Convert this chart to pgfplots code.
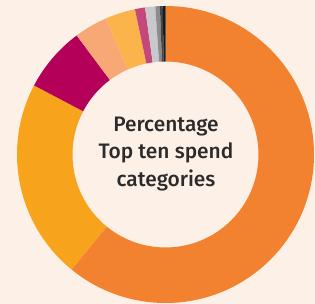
\documentclass[border=0pt]{standalone}
\usepackage{pgfplots}
\pgfplotsset{compat=1.18}
\usepackage{pgfplotstable}
\usepackage{fontspec}
\setmainfont{Fira Sans}[UprightFont=* Medium]
\definecolor{bg}{HTML}{FDF0E6}
\definecolor{txt}{HTML}{2B2B2B}
\definecolor{c1}{HTML}{F28130}
\definecolor{c2}{HTML}{F7A41C}
\definecolor{c3}{HTML}{B5005A}
\definecolor{c4}{HTML}{F7A874}
\definecolor{c5}{HTML}{FBB44C}
\definecolor{c6}{HTML}{C4497A}
\definecolor{c7}{HTML}{C8C9CC}
\definecolor{c8}{HTML}{8C8C8E}
\definecolor{c9}{HTML}{45454A}
\definecolor{c10}{HTML}{1A1A1A}
\pgfplotstableread{
value col
60.9 c1
21.8 c2
7.1 c3
3.6 c4
3.3 c5
1.1 c6
1.1 c7
0.5 c8
0.3 c9
0.3 c10
}\slices
\begin{document}
\begin{tikzpicture}
\begin{axis}[hide axis, scale only axis, width=315bp, height=304bp,
  xmin=0, xmax=315, ymin=0, ymax=304, clip=false]
\pgfplotsextra{
  \fill[bg] (axis cs:0,0) rectangle (axis cs:315,304);
  \xdef\astart{90}
  \foreach \i in {0,...,9}{
    \pgfplotstablegetelem{\i}{value}\of\slices \let\v\pgfplotsretval
    \pgfplotstablegetelem{\i}{col}\of\slices \let\c\pgfplotsretval
    \pgfmathsetmacro\aend{\astart-3.6*\v}
    \fill[color=\c] ([shift={(\astart:148.5bp)}]axis cs:165.5,149.5)
      arc[start angle=\astart, end angle=\aend, radius=148.5bp]
      -- ([shift={(\aend:93bp)}]axis cs:165.5,149.5)
      arc[start angle=\aend, end angle=\astart, radius=93bp] -- cycle;
    \xdef\astart{\aend}
  }
  \node[align=center, text=txt, font=\fontsize{21}{28}\selectfont, inner sep=0pt]
    at (axis cs:166,150) {Percentage\\Top ten spend\\categories};
}
\end{axis}
\end{tikzpicture}
\end{document}
